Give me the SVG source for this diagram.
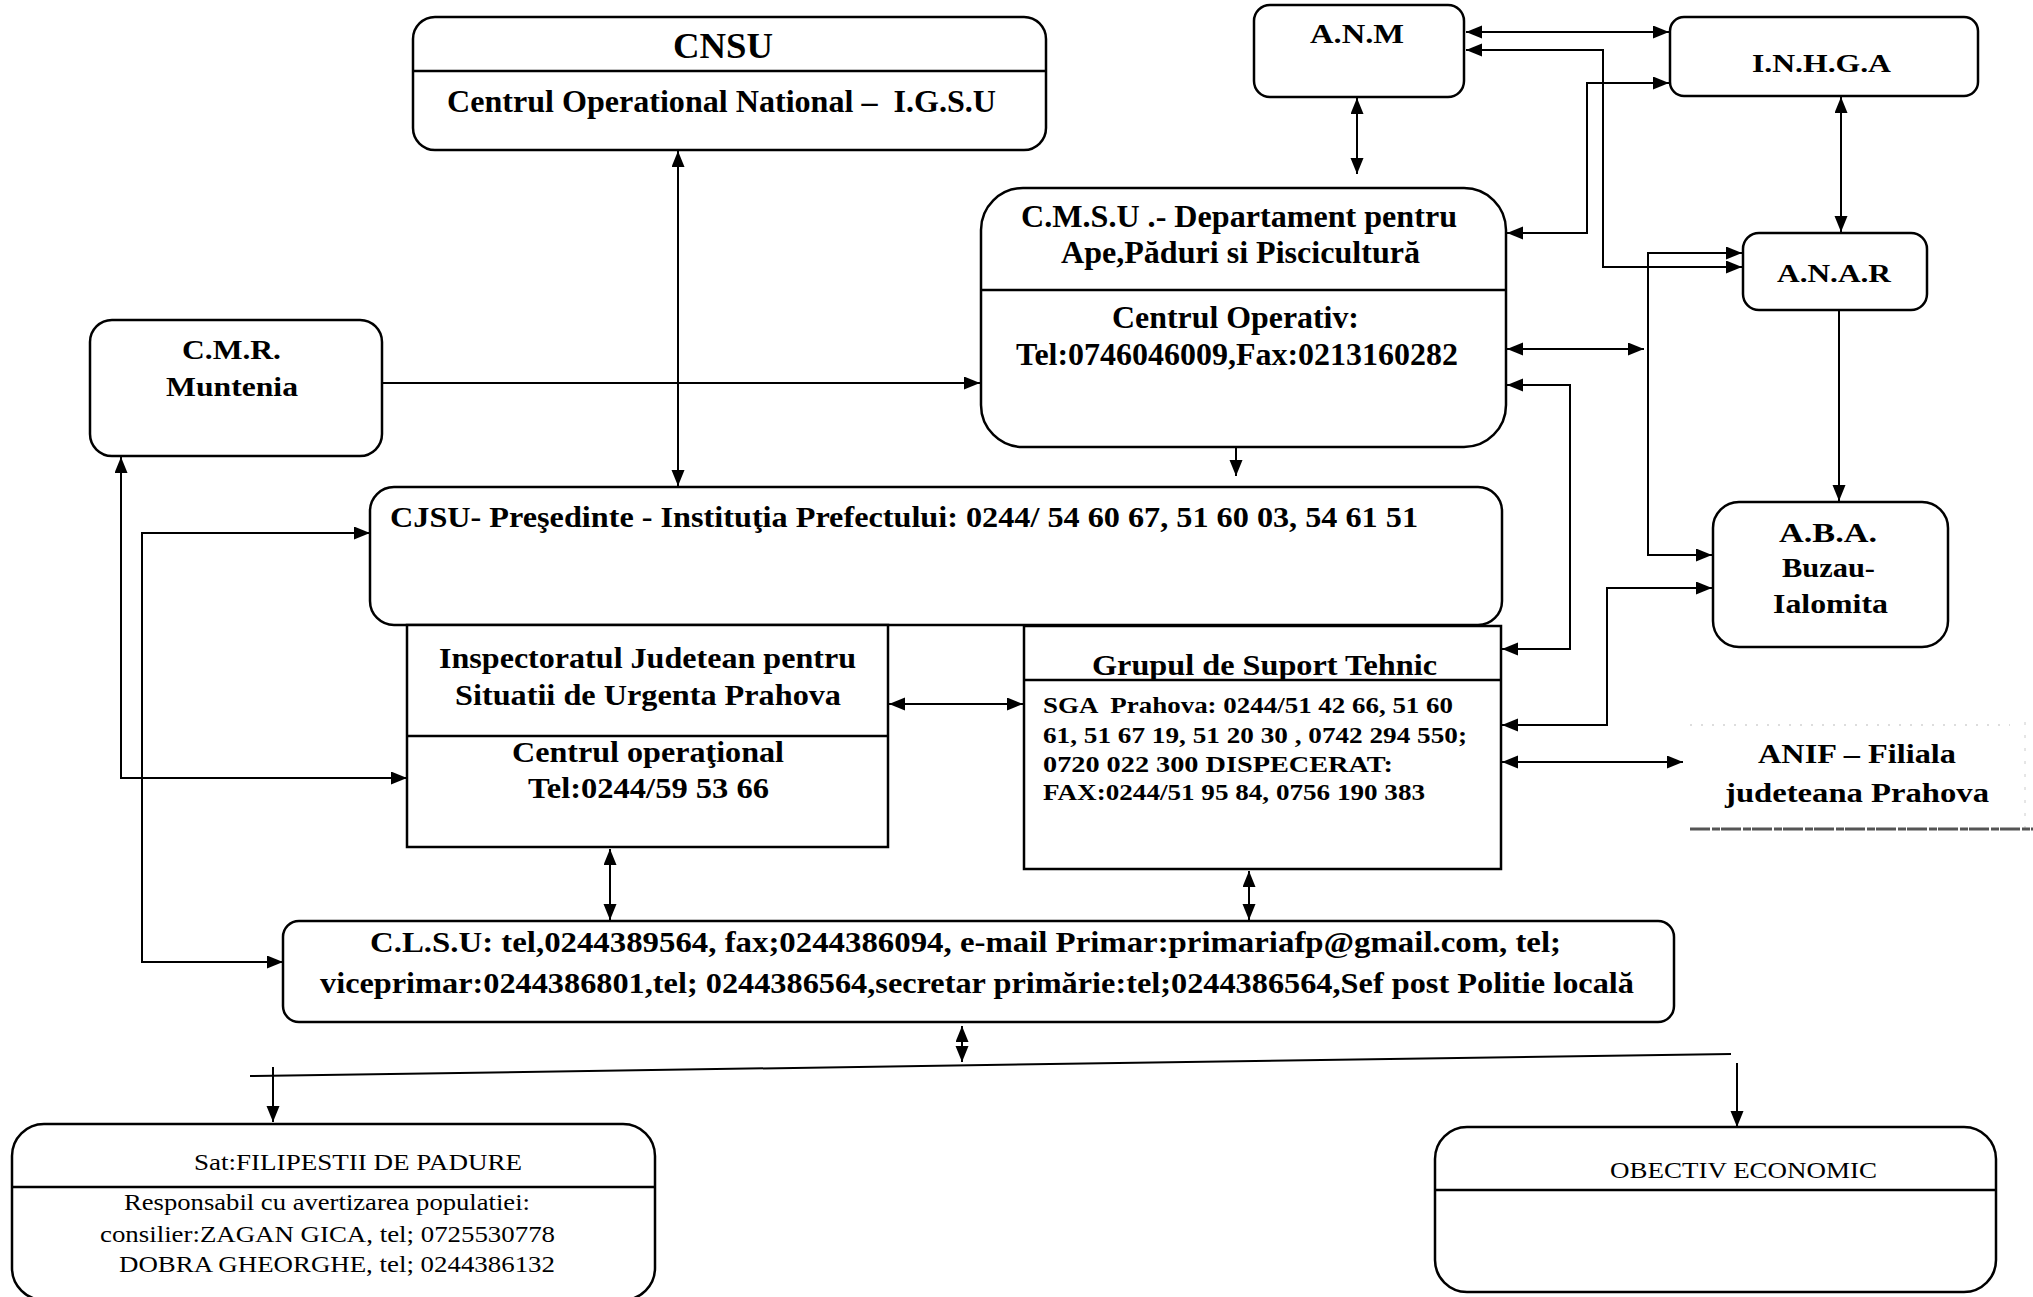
<svg xmlns="http://www.w3.org/2000/svg" width="2033" height="1297" viewBox="0 0 2033 1297">
<style>
.box{fill:#fff;stroke:#000;stroke-width:2.5}
.div{stroke:#000;stroke-width:2.5;fill:none}
.b{font-family:"Liberation Serif","Times New Roman",serif;font-weight:bold;fill:#000}
.r{font-family:"Liberation Serif","Times New Roman",serif;fill:#000}
.c{fill:none;stroke:#000;stroke-width:2}
.a2{marker-start:url(#ah);marker-end:url(#ah)}
.a1{marker-end:url(#ah)}
</style>
<defs>
<marker id="ah" markerUnits="userSpaceOnUse" markerWidth="17" markerHeight="14" refX="16" refY="6.5" orient="auto-start-reverse">
<path d="M0,0 L16,6.5 L0,13 z" fill="#000"/>
</marker>
<clipPath id="gclip"><rect x="1024" y="626" width="477" height="53"/></clipPath>
</defs>
<rect width="2033" height="1297" fill="#fff"/>

<g id="connectors">
<path class="c a2" d="M678,151 V486"/>
<path class="c a1" d="M382,383 H980"/>
<path class="c a2" d="M1357,98 V174"/>
<path class="c a2" d="M1466,32 H1669"/>
<path class="c a2" d="M1466,50 H1603 V267 H1742"/>
<path class="c a2" d="M1507,233 H1587 V83 H1669"/>
<path class="c a2" d="M1841,97 V232"/>
<path class="c a1" d="M1839,311 V501"/>
<path class="c a2" d="M1742,253 H1648 V555 H1712"/>
<path class="c a2" d="M1507,349 H1644"/>
<path class="c a2" d="M1507,385 H1570 V649 H1502"/>
<path class="c a1" d="M1236,448 V476"/>
<path class="c a2" d="M1502,725 H1607 V588 H1712"/>
<path class="c a2" d="M1502,762 H1683"/>
<path class="c a2" d="M889,704 H1023"/>
<path class="c a2" d="M121,457 V778 H407"/>
<path class="c a2" d="M370,533 H142 V962 H283"/>
<path class="c a2" d="M610,849 V920"/>
<path class="c a2" d="M1249,871 V920"/>
<path class="c a2" d="M962,1026 V1062"/>
<path class="c" d="M250,1076 L1731,1054"/>
<path class="c a1" d="M273,1067 V1122"/>
<path class="c a1" d="M1737,1063 V1127"/>
</g>

<g id="cnsu">
<rect class="box" x="413" y="17" width="633" height="133" rx="22"/>
<line class="div" x1="413" y1="71" x2="1046" y2="71"/>
<text class="b" x="673" y="58" font-size="36" textLength="100" lengthAdjust="spacingAndGlyphs">CNSU</text>
<text class="b" x="447" y="112" font-size="32" textLength="549" lengthAdjust="spacingAndGlyphs" xml:space="preserve">Centrul Operational National –  I.G.S.U</text>
</g>

<g id="anm">
<rect class="box" x="1254" y="5" width="210" height="92" rx="16"/>
<text class="b" x="1310" y="43" font-size="27" textLength="94" lengthAdjust="spacingAndGlyphs">A.N.M</text>
</g>

<g id="inhga">
<rect class="box" x="1670" y="17" width="308" height="79" rx="14"/>
<text class="b" x="1752" y="72" font-size="25" textLength="139" lengthAdjust="spacingAndGlyphs">I.N.H.G.A</text>
</g>

<g id="cmsu">
<rect class="box" x="981" y="188" width="525" height="259" rx="42"/>
<line class="div" x1="981" y1="290" x2="1506" y2="290"/>
<text class="b" x="1021" y="227" font-size="31" textLength="436" lengthAdjust="spacingAndGlyphs">C.M.S.U .- Departament pentru</text>
<text class="b" x="1061" y="263" font-size="31" textLength="359" lengthAdjust="spacingAndGlyphs">Ape,Păduri si Piscicultură</text>
<text class="b" x="1112" y="328" font-size="31" textLength="247" lengthAdjust="spacingAndGlyphs">Centrul Operativ:</text>
<text class="b" x="1016" y="365" font-size="31" textLength="442" lengthAdjust="spacingAndGlyphs">Tel:0746046009,Fax:0213160282</text>
</g>

<g id="anar">
<rect class="box" x="1743" y="233" width="184" height="77" rx="16"/>
<text class="b" x="1777" y="282" font-size="25" textLength="114" lengthAdjust="spacingAndGlyphs">A.N.A.R</text>
</g>

<g id="aba">
<rect class="box" x="1713" y="502" width="235" height="145" rx="26"/>
<text class="b" x="1779" y="542" font-size="27" textLength="98" lengthAdjust="spacingAndGlyphs">A.B.A.</text>
<text class="b" x="1782" y="577" font-size="27" textLength="93" lengthAdjust="spacingAndGlyphs">Buzau-</text>
<text class="b" x="1773" y="613" font-size="27" textLength="115" lengthAdjust="spacingAndGlyphs">Ialomita</text>
</g>

<g id="cmr">
<rect class="box" x="90" y="320" width="292" height="136" rx="22"/>
<text class="b" x="182" y="359" font-size="28" textLength="99" lengthAdjust="spacingAndGlyphs">C.M.R.</text>
<text class="b" x="166" y="396" font-size="28" textLength="132" lengthAdjust="spacingAndGlyphs">Muntenia</text>
</g>

<g id="cjsu">
<rect class="box" x="370" y="487" width="1132" height="138" rx="24"/>
<text class="b" x="390" y="527" font-size="30" textLength="1028" lengthAdjust="spacingAndGlyphs">CJSU- Preşedinte - Instituţia Prefectului: 0244/ 54 60 67, 51 60 03, 54 61 51</text>
</g>

<g id="ijsu">
<rect class="box" x="407" y="625" width="481" height="222"/>
<line class="div" x1="407" y1="736" x2="888" y2="736"/>
<text class="b" x="439" y="668" font-size="30" textLength="417" lengthAdjust="spacingAndGlyphs">Inspectoratul Judetean pentru</text>
<text class="b" x="455" y="705" font-size="30" textLength="386" lengthAdjust="spacingAndGlyphs">Situatii de Urgenta Prahova</text>
<text class="b" x="512" y="762" font-size="30" textLength="272" lengthAdjust="spacingAndGlyphs">Centrul operaţional</text>
<text class="b" x="528" y="798" font-size="30" textLength="241" lengthAdjust="spacingAndGlyphs">Tel:0244/59 53 66</text>
</g>

<g id="gst">
<rect class="box" x="1024" y="626" width="477" height="243"/>
<line class="div" x1="1024" y1="680" x2="1501" y2="680"/>
<text class="b" x="1092" y="675" font-size="30" textLength="345" lengthAdjust="spacingAndGlyphs" clip-path="url(#gclip)">Grupul de Suport Tehnic</text>
<text class="b" x="1043" y="713" font-size="23" textLength="410" lengthAdjust="spacingAndGlyphs" xml:space="preserve">SGA  Prahova: 0244/51 42 66, 51 60</text>
<text class="b" x="1043" y="743" font-size="23" textLength="424" lengthAdjust="spacingAndGlyphs">61, 51 67 19, 51 20 30 , 0742 294 550;</text>
<text class="b" x="1043" y="772" font-size="23" textLength="350" lengthAdjust="spacingAndGlyphs">0720 022 300 DISPECERAT:</text>
<text class="b" x="1043" y="800" font-size="23" textLength="382" lengthAdjust="spacingAndGlyphs">FAX:0244/51 95 84, 0756 190 383</text>
</g>

<g id="anif">
<line x1="1690" y1="725" x2="2010" y2="725" stroke="#bbb" stroke-width="1" stroke-dasharray="2 9"/>
<line x1="2025" y1="722" x2="2025" y2="828" stroke="#ccc" stroke-width="1" stroke-dasharray="3 10"/>
<line x1="1690" y1="829" x2="2033" y2="829" stroke="#555" stroke-width="3" stroke-dasharray="20 2 8 1"/>
<text class="b" x="1758" y="763" font-size="28" textLength="198" lengthAdjust="spacingAndGlyphs">ANIF – Filiala</text>
<text class="b" x="1725" y="802" font-size="28" textLength="264" lengthAdjust="spacingAndGlyphs">judeteana Prahova</text>
</g>

<g id="clsu">
<rect class="box" x="283" y="921" width="1391" height="101" rx="16"/>
<text class="b" x="370" y="952" font-size="29" textLength="1191" lengthAdjust="spacingAndGlyphs">C.L.S.U: tel,0244389564, fax;0244386094, e-mail Primar:primariafp@gmail.com, tel;</text>
<text class="b" x="320" y="993" font-size="29" textLength="1314" lengthAdjust="spacingAndGlyphs">viceprimar:0244386801,tel; 0244386564,secretar primărie:tel;0244386564,Sef post Politie locală</text>
</g>

<g id="sat">
<rect class="box" x="12" y="1124" width="643" height="176" rx="32"/>
<line class="div" x1="12" y1="1187" x2="655" y2="1187"/>
<text class="r" x="194" y="1170" font-size="23" textLength="328" lengthAdjust="spacingAndGlyphs">Sat:FILIPESTII DE PADURE</text>
<text class="r" x="124" y="1210" font-size="23" textLength="406" lengthAdjust="spacingAndGlyphs">Responsabil cu avertizarea populatiei:</text>
<text class="r" x="100" y="1242" font-size="23" textLength="455" lengthAdjust="spacingAndGlyphs">consilier:ZAGAN GICA, tel; 0725530778</text>
<text class="r" x="119" y="1272" font-size="23" textLength="436" lengthAdjust="spacingAndGlyphs">DOBRA GHEORGHE, tel; 0244386132</text>
</g>

<g id="obiectiv">
<rect class="box" x="1435" y="1127" width="561" height="165" rx="32"/>
<line class="div" x1="1435" y1="1190" x2="1996" y2="1190"/>
<text class="r" x="1610" y="1178" font-size="23" textLength="267" lengthAdjust="spacingAndGlyphs">OBECTIV ECONOMIC</text>
</g>
</svg>
